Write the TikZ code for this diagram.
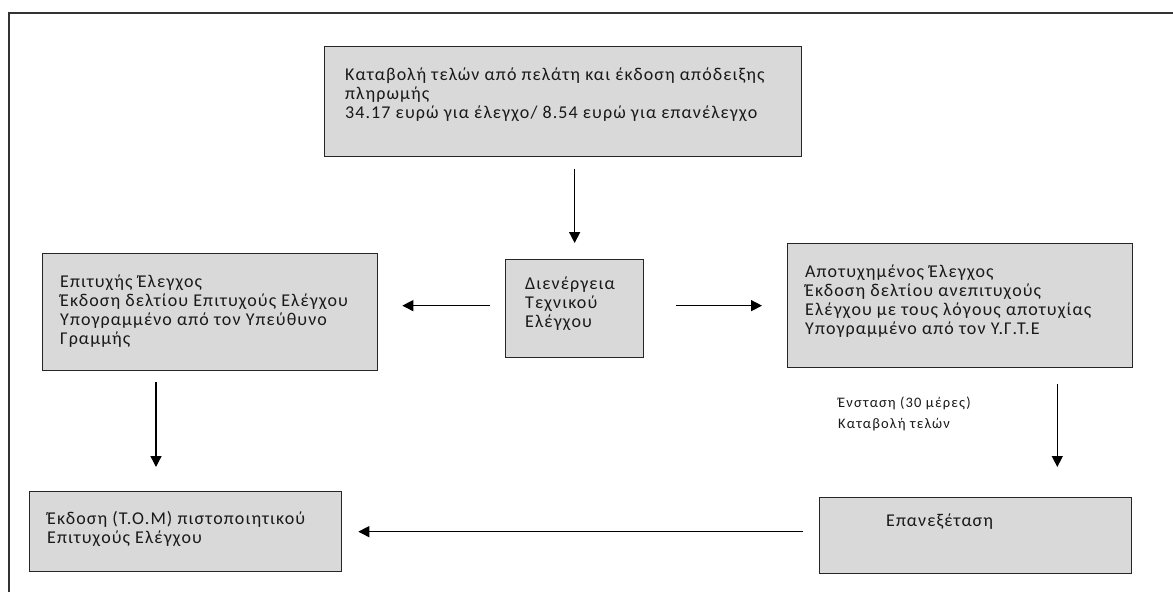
\documentclass[tikz,border=0pt]{standalone}
\usepackage{fontspec}
\setmainfont{Carlito}
\newfontfamily\boxfont[LetterSpace=6]{Carlito}
\newfontfamily\lblfont[LetterSpace=8]{Carlito}
\usetikzlibrary{arrows.meta}
\definecolor{boxgray}{RGB}{217,217,217}
\tikzset{
  box/.style={draw=black!85, line width=1.3pt, fill=boxgray, rectangle, inner sep=0pt, anchor=north west},
  txt/.style={anchor=north west, inner sep=0pt, align=left, text=black!90, font=\boxfont\fontsize{18}{19}\selectfont},
  lbl/.style={anchor=north west, inner sep=0pt, align=left, text=black!90, font=\lblfont\fontsize{14.5}{21}\selectfont},
  arr/.style={draw=black, line width=1.4pt, -{Triangle[length=11pt,width=11pt]}},
}
\begin{document}
\begin{tikzpicture}[x=1pt,y=-1pt]
\useasboundingbox (0,0) rectangle (1173,592);
% outer frame
\draw[line width=2pt, black!80] (9,592) -- (9,13) -- (1173,13);
% boxes
\node[box, minimum width=477pt, minimum height=110pt] (top) at (324,46) {};
\node[box, minimum width=138pt, minimum height=98pt] (mid) at (505,259) {};
\node[box, minimum width=335pt, minimum height=117pt] (lft) at (42,253) {};
\node[box, minimum width=345pt, minimum height=124pt] (rgt) at (787,243) {};
\node[box, minimum width=312pt, minimum height=80pt] (bl) at (29,491) {};
\node[box, minimum width=312pt, minimum height=76pt] (br) at (819,497) {};
% texts
\node[txt] (ttop) at ([xshift=21pt,yshift=-22pt]top.north west) {Καταβολή τελών από πελάτη και έκδοση απόδειξης\\πληρωμής\\34.17 ευρώ για έλεγχο/ 8.54 ευρώ για επανέλεγχο};
\node[txt] (tmid) at ([xshift=20pt,yshift=-18pt]mid.north west) {Διενέργεια\\Τεχνικού\\Ελέγχου};
\node[txt] (tlft) at ([xshift=18pt,yshift=-22pt]lft.north west) {Επιτυχής Έλεγχος\\Έκδοση δελτίου Επιτυχούς Ελέγχου\\Υπογραμμένο από τον Υπεύθυνο\\Γραμμής};
\node[txt] (trgt) at ([xshift=18pt,yshift=-22pt]rgt.north west) {Αποτυχημένος Έλεγχος\\Έκδοση δελτίου ανεπιτυχούς\\Ελέγχου με τους λόγους αποτυχίας\\Υπογραμμένο από τον Υ.Γ.Τ.Ε};
\node[txt] (tbl) at ([xshift=18pt,yshift=-20pt]bl.north west) {Έκδοση (Τ.Ο.Μ) πιστοποιητικού\\Επιτυχούς Ελέγχου};
\node[txt] (tbr) at ([xshift=67pt,yshift=-17pt]br.north west) {Επανεξέταση};
\node[lbl] (ens) at (838,397) {Ένσταση (30 μέρες)\\Καταβολή τελών};
% connectors
\draw[arr, shorten <=12pt, shorten >=16pt] (top.south -| mid.north) -- (mid.north);
\draw[arr, shorten <=15pt, shorten >=24pt] ([yshift=3pt]mid.west) -- ([yshift=3pt]mid.west -| lft.east);
\draw[arr, shorten <=32pt, shorten >=25pt] ([yshift=3pt]mid.east) -- ([yshift=3pt]mid.east -| rgt.west);
\draw[arr, shorten <=11pt, shorten >=24pt] ([xshift=114pt]lft.south west) -- ([xshift=114pt]lft.south west |- bl.north);
\draw[arr, shorten <=16pt, shorten >=30pt] ([xshift=-76pt]rgt.south east) -- ([xshift=-76pt]rgt.south east |- br.north);
\draw[arr, shorten <=16pt, shorten >=16pt] (br.west |- bl.east) -- (bl.east);
\end{tikzpicture}
\end{document}
